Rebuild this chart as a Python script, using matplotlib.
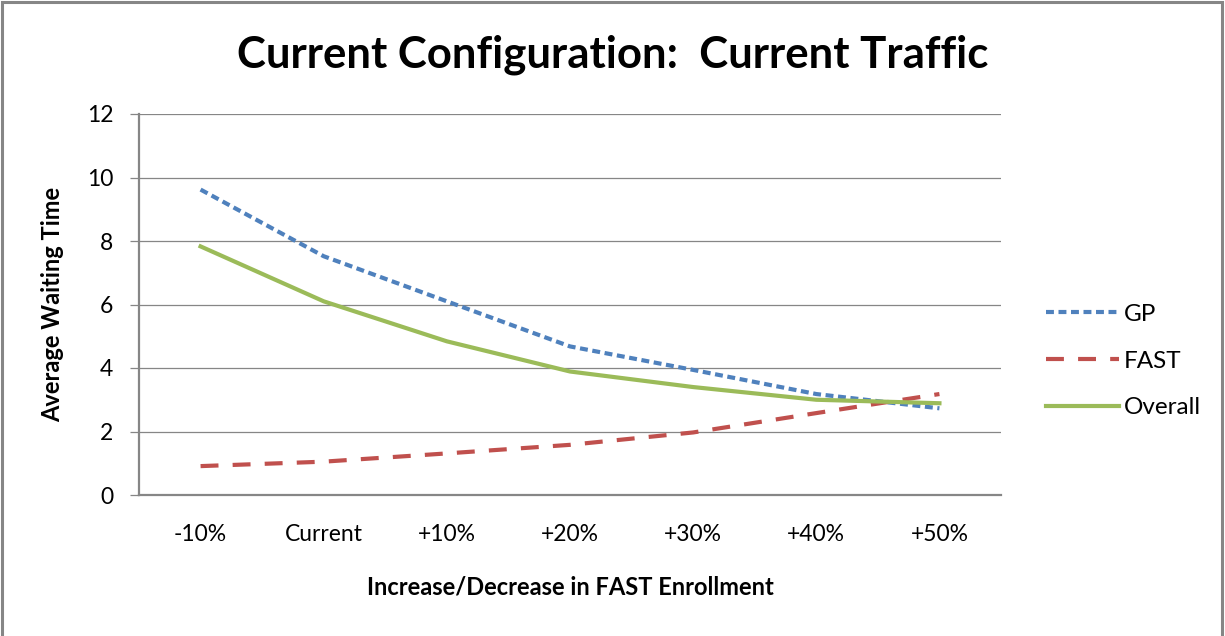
import matplotlib.pyplot as plt
from matplotlib.patches import Rectangle

plt.rcParams['font.family'] = ['Lato', 'DejaVu Sans']

categories = ["-10%", "Current", "+10%", "+20%", "+30%", "+40%", "+50%"]
gp = [9.62, 7.52, 6.10, 4.68, 3.94, 3.18, 2.73]
fast = [0.91, 1.05, 1.31, 1.58, 1.97, 2.58, 3.18]
overall = [7.83, 6.10, 4.84, 3.89, 3.40, 3.00, 2.89]

GREY = "#868686"
W, H = 1225, 636

fig = plt.figure(figsize=(W / 100, H / 100), dpi=100)
ax = fig.add_axes([139 / W, (H - 495) / H, (1001 - 139) / W, (495 - 114) / H])

x = [i + 0.5 for i in range(len(categories))]
ax.plot(x, gp, color="#4F81BD", lw=3, dashes=(1.9, 1.1), label="GP")
ax.plot(x, fast, color="#C0504D", lw=3, dashes=(4.3, 3.4), label="FAST")
ax.plot(x, overall, color="#9BBB59", lw=3, label="Overall")

ax.set_xlim(0, 7)
ax.set_ylim(0, 12)
ax.set_yticks(range(0, 13, 2))
ax.set_xticks(x)
ax.set_xticklabels(categories)
ax.yaxis.grid(True, color=GREY, lw=0.9)
ax.set_axisbelow(True)
for s in ["top", "right"]:
    ax.spines[s].set_visible(False)
for s in ["left", "bottom"]:
    ax.spines[s].set_color(GREY)
    ax.spines[s].set_linewidth(1.6)
ax.tick_params(axis="y", length=6.5, width=0.9, color=GREY, pad=12, labelsize=16.5)
ax.tick_params(axis="x", length=0, pad=21, labelsize=16.5)

ax.set_xlabel("Increase/Decrease in FAST Enrollment", fontsize=17, fontweight="bold", labelpad=22)
ax.set_ylabel("Average Waiting Time", fontsize=17, fontweight="bold", labelpad=16)

fig.text(0.5, (H - 55) / H, "Current Configuration:  Current Traffic", ha="center", va="center",
         fontsize=31.5, fontweight="bold")

fig.legend(loc="center left", bbox_to_anchor=(1024 / W, (H - 361) / H), frameon=False,
           fontsize=17.5, handlelength=3.0, labelspacing=1.05, handletextpad=0.2)

fig.patches.append(Rectangle((2 / W, -0.05), (1220 / W), 1.05 - 2 / H, transform=fig.transFigure,
                             fill=False, edgecolor=GREY, lw=2.2, clip_on=False))

fig.savefig("out.png", dpi=100)
